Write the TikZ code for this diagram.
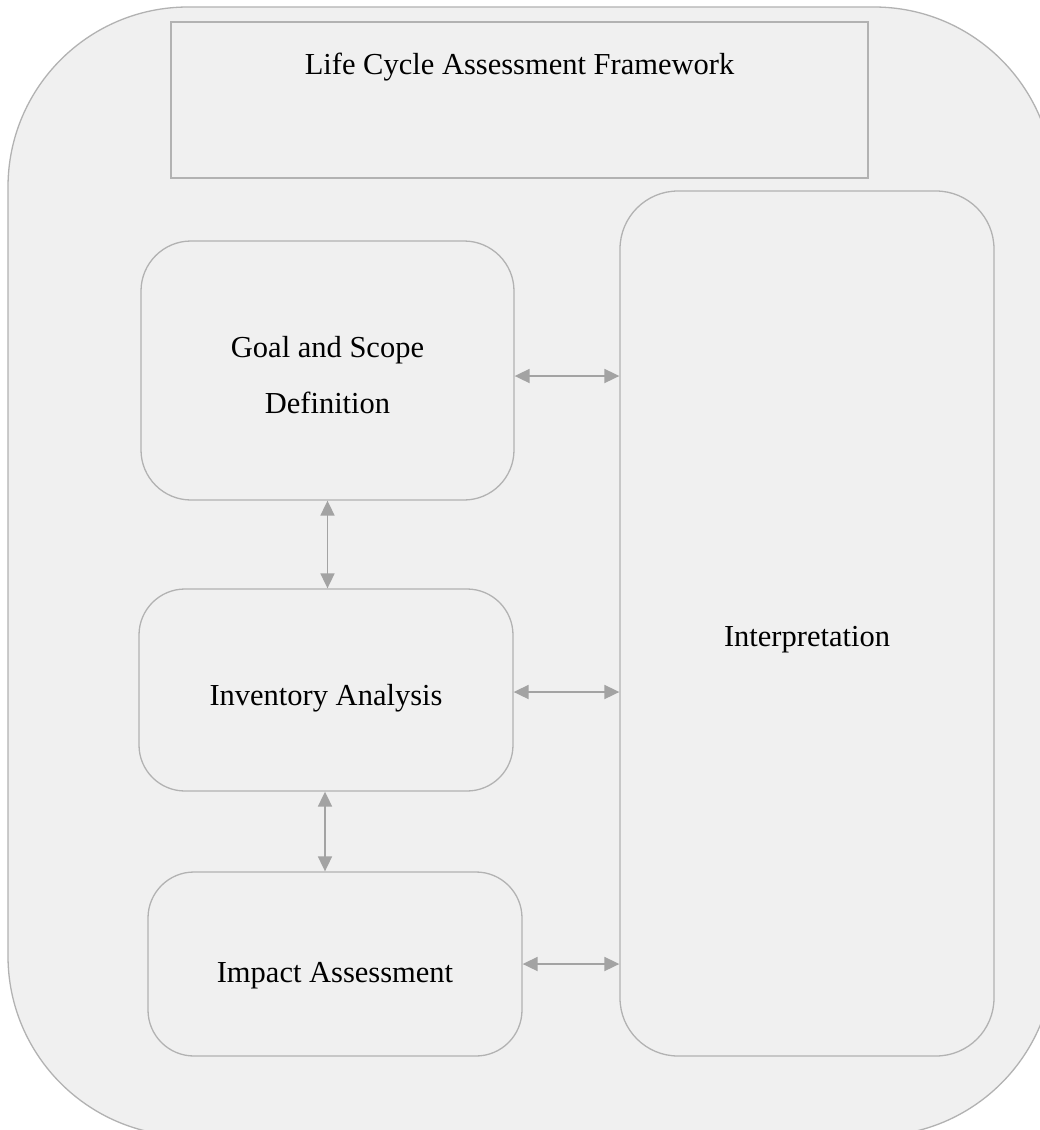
\documentclass[tikz,border=0pt]{standalone}
\usepackage{fontspec}
\setmainfont{Liberation Serif}
\usetikzlibrary{arrows.meta}
\definecolor{panelbg}{HTML}{F0F0F0}
\definecolor{boxline}{HTML}{B2B2B2}
\definecolor{arrowgray}{HTML}{A3A3A3}
\begin{document}
\begin{tikzpicture}[x=1pt,y=-1pt,
  box/.style={draw=boxline, line width=1.3pt, fill=panelbg, inner sep=0pt, rectangle},
  lbl/.style={font=\fontsize{30.5}{36}\selectfont, text=black, inner sep=0pt, anchor=base},
  conn/.style={draw=arrowgray, line width=1.8pt, {Triangle[length=15pt,width=14pt]}-{Triangle[length=15pt,width=14pt]}}]
  % canvas and clipping frame
  \clip (0,0) rectangle (1040,1130);
  \fill[white] (0,0) rectangle (1040,1130);
  % outer rounded panel (partly cut by the frame)
  \draw[draw=boxline, line width=1.3pt, fill=panelbg, rounded corners=180pt] (8,7) rectangle (1054,1136);

  % title frame
  \node[box, minimum width=697pt, minimum height=156pt] (title) at (519.5,100) {};
  \node[lbl] (titleT) at (519.5,74) {Life Cycle Assessment Framework};

  % phase boxes
  \node[box, rounded corners=50pt, minimum width=373pt, minimum height=259pt] (goal) at (327.5,370.5) {};
  \node[box, rounded corners=46pt, minimum width=374pt, minimum height=202pt] (inv) at (326,690) {};
  \node[box, rounded corners=46pt, minimum width=374pt, minimum height=184pt] (imp) at (335,964) {};
  \node[box, rounded corners=58pt, minimum width=374pt, minimum height=865pt] (interp) at (807,623.5) {};

  % box labels
  \node[lbl] (goalT1) at (327.5,357) {Goal and Scope};
  \node[lbl] (goalT2) at (327.5,413) {Definition};
  \node[lbl] (invT) at (326,705) {Inventory Analysis};
  \node[lbl] (impT) at (335,982) {Impact Assessment};
  \node[lbl] (interpT) at (807,646) {Interpretation};

  % two-way links
  \draw[conn] ([yshift=-5.5pt]goal.east) -- ([yshift=-5.5pt]goal.east -| interp.west);
  \draw[conn] ([yshift=-2pt]inv.east) -- ([yshift=-2pt]inv.east -| interp.west);
  \draw[conn] (imp.east) -- (imp.east -| interp.west);
  \draw[conn] (goal.south) -- (goal.south |- inv.north);
  \draw[conn] ([xshift=-1pt]inv.south) -- ([xshift=-1pt]inv.south |- imp.north);
\end{tikzpicture}
\end{document}
